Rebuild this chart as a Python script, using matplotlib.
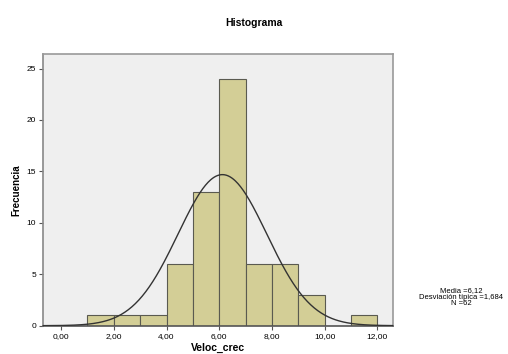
import numpy as np
import matplotlib
matplotlib.use('agg')
import matplotlib.pyplot as plt

plt.rcParams['font.family'] = ['Liberation Sans', 'DejaVu Sans']

##### Data
bin_edges = [1, 2, 3, 4, 5, 6, 7, 8, 9, 10, 11, 12]
counts = [1, 1, 1, 6, 13, 24, 6, 6, 3, 0, 1]
media = 6.12
desv = 1.684
n_total = 62
xticks = [0, 2, 4, 6, 8, 10, 12]
xtick_labels = ['0,00', '2,00', '4,00', '6,00', '8,00', '10,00', '12,00']
yticks = [0, 5, 10, 15, 20, 25]

##### Plotting
fig = plt.figure(figsize=(5.08, 3.54), dpi=100)
ax = fig.add_axes([0.085, 0.08, 0.689, 0.767])
ax.set_facecolor('#efefef')

widths = np.diff(bin_edges)
ax.bar(bin_edges[:-1], counts, width=widths, align='edge',
       color='#d3ce96', edgecolor='#5a5a50', linewidth=0.8, zorder=2)

xlim = (-0.68, 12.6)
xx = np.linspace(xlim[0], xlim[1], 400)
yy = n_total * 1.0 / (desv * np.sqrt(2 * np.pi)) * np.exp(-0.5 * ((xx - media) / desv) ** 2)
ax.plot(xx, yy, color='#333333', linewidth=1.0, zorder=3)

ax.set_xlim(xlim)
ax.set_ylim(0, 26.4)
ax.set_xticks(xticks)
ax.set_xticklabels(xtick_labels)
ax.set_yticks(yticks)
ax.tick_params(labelsize=6, length=3, width=0.8, color='#555555', pad=2)
for s in ax.spines.values():
    s.set_color('#999999')
    s.set_linewidth(1.2)
ax.spines['bottom'].set_color('#555555')
ax.spines['left'].set_color('#888888')

ax.set_xlabel('Veloc_crec', fontsize=7.5, fontweight='bold', labelpad=2)
ax.set_ylabel('Frecuencia', fontsize=7, fontweight='bold', labelpad=4)
fig.text(0.5, 0.935, 'Histograma', ha='center', va='center', fontsize=7.5, fontweight='bold')

stats = ('Media =' + ('%.2f' % media).replace('.', ',') + '\n'
         'Desviación típica =' + ('%.3f' % desv).replace('.', ',') + '\n'
         'N =' + str(n_total))
fig.text(0.908, 0.16, stats, ha='center', va='center', fontsize=5.5, linespacing=0.9)

plt.savefig('out.png', dpi=100)
